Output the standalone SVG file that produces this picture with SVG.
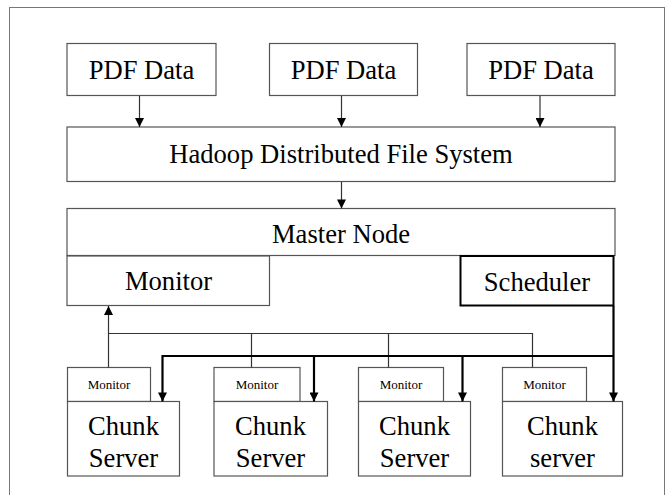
<svg xmlns="http://www.w3.org/2000/svg" width="671" height="495" viewBox="0 0 671 495">
<style>
.box{fill:#fff;stroke:#555;stroke-width:1.2}
.bold{fill:#fff;stroke:#000;stroke-width:2}
.t{font-family:"Liberation Serif","Times New Roman",serif;font-size:26.6px;fill:#000;text-anchor:middle}
.s{font-family:"Liberation Serif","Times New Roman",serif;font-size:13px;fill:#000;text-anchor:middle}
.ln{stroke:#333;stroke-width:1.2;fill:none}
.tk{stroke:#000;stroke-width:2.2;fill:none}
</style>
<defs>
<marker id="ah" viewBox="0 0 10 10" refX="10" refY="5" markerWidth="10" markerHeight="9" markerUnits="userSpaceOnUse" orient="auto">
<path d="M0,0 L10,5 L0,10 z" fill="#000"/>
</marker>
</defs>
<rect x="9.5" y="7.5" width="655" height="500" fill="#fff" stroke="#777" stroke-width="1"/>
<g id="pdf1"><rect class="box" x="67" y="43.5" width="149" height="52"/><text class="t" x="141.5" y="79">PDF Data</text></g>
<g id="pdf2"><rect class="box" x="269.5" y="43.5" width="148" height="52"/><text class="t" x="343.5" y="79">PDF Data</text></g>
<g id="pdf3"><rect class="box" x="467" y="43.5" width="148" height="52"/><text class="t" x="541" y="79">PDF Data</text></g>
<g id="hdfs"><rect class="box" x="67" y="127" width="548" height="54.5"/><text class="t" x="341" y="163">Hadoop Distributed File System</text></g>
<g id="master"><rect class="box" x="67" y="208.5" width="548" height="47"/><text class="t" x="341" y="243">Master Node</text></g>
<g id="monitor"><rect class="box" x="67" y="256" width="202.5" height="49.5"/><text class="t" x="168.5" y="290">Monitor</text></g>
<g id="scheduler"><rect class="bold" x="460.5" y="256" width="153" height="49.5"/><text class="t" x="537" y="291">Scheduler</text></g>
<g id="cs1"><rect class="box" x="67.5" y="367.5" width="83" height="34"/><text class="s" x="109" y="389">Monitor</text><rect class="box" x="67.5" y="401.5" width="112" height="74.5"/><text class="t" x="123.5" y="435">Chunk</text><text class="t" x="123.5" y="466.5">Server</text></g>
<g id="cs2"><rect class="box" x="214" y="367.5" width="86" height="34"/><text class="s" x="257" y="389">Monitor</text><rect class="box" x="214" y="401.5" width="113.5" height="74.5"/><text class="t" x="270.5" y="435">Chunk</text><text class="t" x="270.5" y="466.5">Server</text></g>
<g id="cs3"><rect class="box" x="358.5" y="367.5" width="85" height="34"/><text class="s" x="401" y="389">Monitor</text><rect class="box" x="358.5" y="401.5" width="112" height="74.5"/><text class="t" x="414.5" y="435">Chunk</text><text class="t" x="414.5" y="466.5">Server</text></g>
<g id="cs4"><rect class="box" x="502.5" y="367.5" width="84" height="34"/><text class="s" x="544.5" y="389">Monitor</text><rect class="box" x="502.5" y="401.5" width="120" height="74.5"/><text class="t" x="562.5" y="435">Chunk</text><text class="t" x="562.5" y="466.5">server</text></g>
<g id="connectors">
<line class="ln" x1="139.5" y1="96" x2="139.5" y2="127" marker-end="url(#ah)"/>
<line class="ln" x1="341.5" y1="96" x2="341.5" y2="127" marker-end="url(#ah)"/>
<line class="ln" x1="540" y1="96" x2="540" y2="127" marker-end="url(#ah)"/>
<line class="ln" x1="341.5" y1="182" x2="341.5" y2="208.5" marker-end="url(#ah)"/>
<line class="ln" x1="108.5" y1="367.5" x2="108.5" y2="306" marker-end="url(#ah)"/>
<polyline class="ln" points="108.5,333.5 532.5,333.5 532.5,367.5"/>
<line class="ln" x1="251.5" y1="333.5" x2="251.5" y2="367.5"/>
<line class="ln" x1="388.5" y1="333.5" x2="388.5" y2="367.5"/>
<line class="tk" x1="613.5" y1="306" x2="613.5" y2="401.5" marker-end="url(#ah)"/>
<polyline class="tk" points="613.5,356 162.5,356 162.5,401.5" marker-end="url(#ah)"/>
<line class="tk" x1="314" y1="356" x2="314" y2="401.5" marker-end="url(#ah)"/>
<line class="tk" x1="462.5" y1="356" x2="462.5" y2="401.5" marker-end="url(#ah)"/>
</g>
</svg>
